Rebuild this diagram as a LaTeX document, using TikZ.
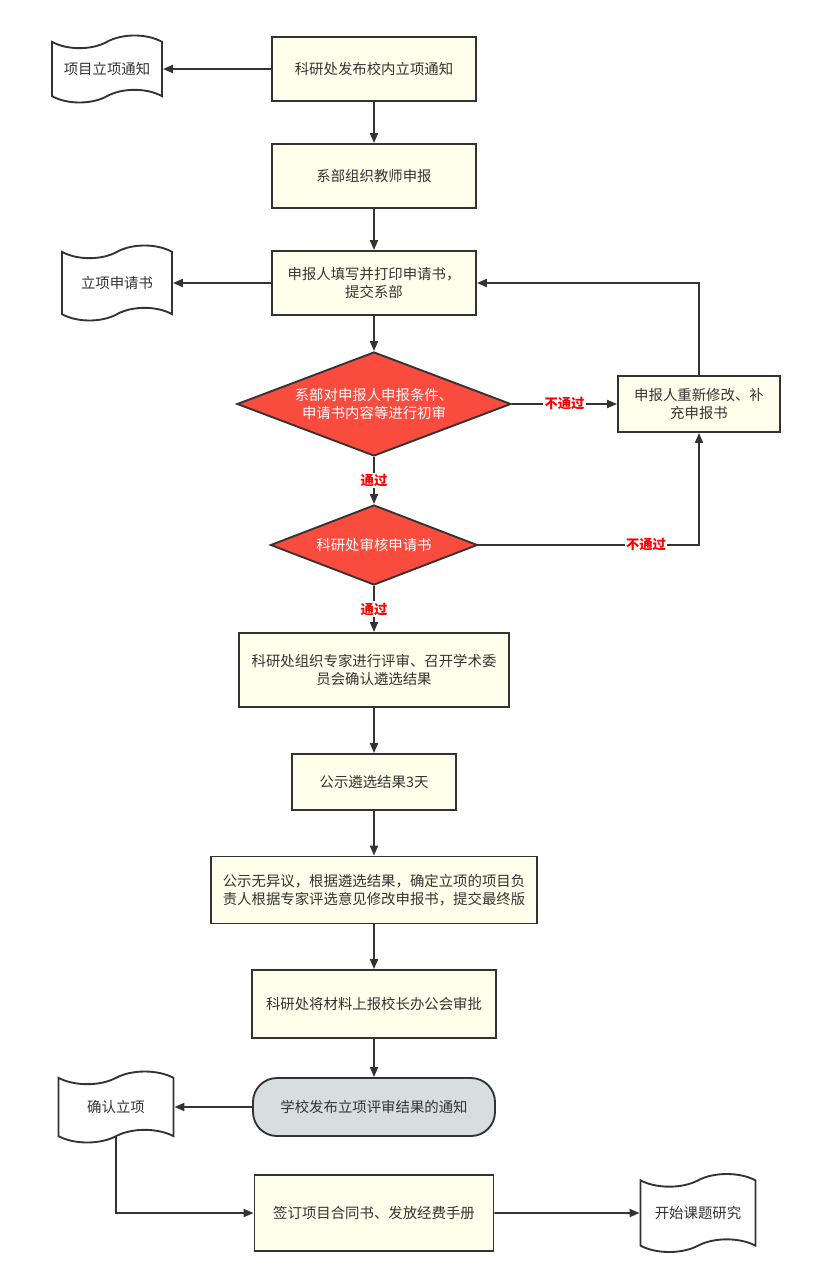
\documentclass[tikz,border=0pt]{standalone}
\usepackage{fontspec}
\newfontfamily\cjk{Noto Sans CJK SC}
\usetikzlibrary{shapes.geometric,shapes.symbols,arrows.meta}
\definecolor{boxfill}{HTML}{FFFFEB}
\definecolor{linec}{HTML}{333333}
\definecolor{textc}{HTML}{333333}
\definecolor{decfill}{HTML}{F94B3E}
\definecolor{endfill}{HTML}{D6DEE0}
\begin{document}
\begin{tikzpicture}[x=0.75pt,y=-0.75pt,
  font=\cjk\fontsize{10.8}{13}\selectfont,
  proc/.style={draw=linec, line width=1.4pt, fill=boxfill, text=textc, align=center, inner sep=0pt},
  dec/.style={diamond, draw=linec, line width=1.4pt, fill=decfill, text=white, align=center, inner sep=0pt},
  doc/.style={tape, draw=linec, line width=1.4pt, fill=white, text=textc, align=center, inner sep=0pt, tape bend height=9.5pt},
  term/.style={draw=linec, line width=1.4pt, fill=endfill, text=textc, align=center, inner sep=0pt, rounded corners=18pt},
  conn/.style={draw=linec, line width=1.4pt, -{Triangle[length=7.5pt,width=6pt]}},
  lab/.style={fill=white, text=red, font=\cjk\bfseries\fontsize{10}{12}\selectfont, inner sep=1pt}
]
\useasboundingbox (0,0) rectangle (815,1288);

\node[proc, minimum width=153pt, minimum height=48pt] (n1) at (374,69) {科研处发布校内立项通知};
\node[doc, minimum width=82.5pt, minimum height=50.25pt] (d1) at (107,69) {项目立项通知};
\node[proc, minimum width=153pt, minimum height=48pt] (n2) at (374,176) {系部组织教师申报};
\node[proc, minimum width=153pt, minimum height=48pt] (n3) at (374,283) {申报人填写并打印申请书，\\提交系部};
\node[doc, minimum width=82.5pt, minimum height=56.25pt] (d2) at (117,283) {立项申请书};
\node[dec, aspect=2.63, minimum width=205.5pt, minimum height=78pt] (c1) at (374,404) {系部对申报人申报条件、\\申请书内容等进行初审};
\node[proc, minimum width=121.5pt, minimum height=42pt] (r1) at (699,404) {申报人重新修改、补\\充申报书};
\node[dec, aspect=2.59, minimum width=155.25pt, minimum height=60pt] (c2) at (374,545) {科研处审核申请书};
\node[proc, minimum width=202.5pt, minimum height=55.5pt] (n4) at (374,670) {科研处组织专家进行评审、召开学术委\\员会确认遴选结果};
\node[proc, minimum width=123pt, minimum height=42pt] (n5) at (374,782) {公示遴选结果3天};
\node[proc, minimum width=244.5pt, minimum height=50.25pt] (n6) at (374,890) {公示无异议，根据遴选结果，确定立项的项目负\\责人根据专家评选意见修改申报书，提交最终版};
\node[proc, minimum width=183pt, minimum height=51pt] (n7) at (374,1004) {科研处将材料上报校长办公会审批};
\node[term, minimum width=181.5pt, minimum height=43.5pt] (n8) at (374,1107) {学校发布立项评审结果的通知};
\node[doc, minimum width=86.25pt, minimum height=53.25pt] (d3) at (116,1107) {确认立项};
\node[proc, minimum width=179.25pt, minimum height=57pt] (n9) at (374,1213) {签订项目合同书、发放经费手册};
\node[doc, minimum width=86.25pt, minimum height=58.5pt] (d4) at (698,1213) {开始课题研究};

\draw[conn] (n1) -- (d1);
\draw[conn] (n1) -- (n2);
\draw[conn] (n2) -- (n3);
\draw[conn] (n3) -- (d2);
\draw[conn] (n3) -- (c1);
\draw[conn] (c1) -- node[lab] {不通过} (r1);
\draw[conn] (r1.north) |- (n3.east);
\draw[conn] (c1) -- node[lab] {通过} (c2);
\draw[conn] (c2.east) -| node[lab, pos=0.38] {不通过} (r1.south);
\draw[conn] (c2) -- node[lab] {通过} (n4);
\draw[conn] (n4) -- (n5);
\draw[conn] (n5) -- (n6);
\draw[conn] (n6) -- (n7);
\draw[conn] (n7) -- (n8);
\draw[conn] (n8) -- (d3);
\draw[conn] (d3.south) |- (n9.west);
\draw[conn] (n9) -- (d4);
\end{tikzpicture}
\end{document}
